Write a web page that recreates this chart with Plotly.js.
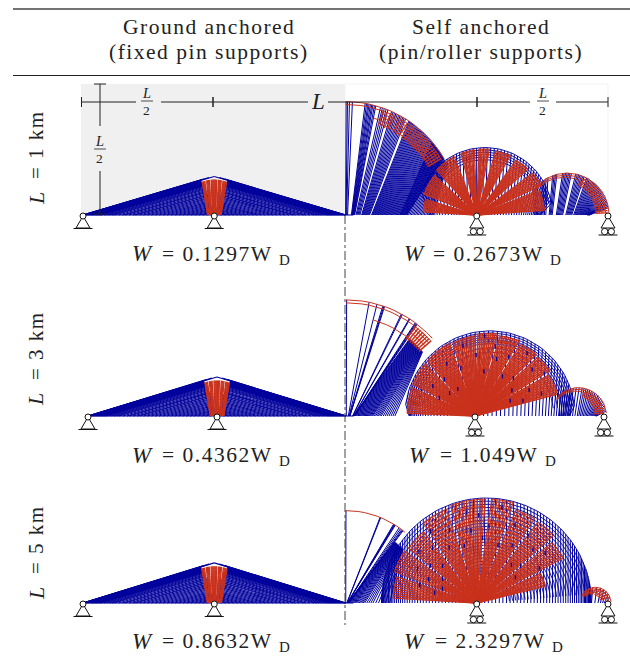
<!DOCTYPE html>
<html><head><meta charset="utf-8">
<script src="https://cdn.plot.ly/plotly-3.0.1.min.js"></script>
<style>html,body{margin:0;padding:0;background:#fff}
.annotation-text{letter-spacing:1.5px}</style></head>
<body><div id="chart" style="width:630px;height:660px"></div>
<script>
// ---------- text values ----------
const headers = [["Ground anchored","(fixed pin supports)"],["Self anchored","(pin/roller supports)"]];
const spanKm = [1,3,5];
const weightsGround = ["0.1297","0.4362","0.8632"];
const weightsSelf = ["0.2673","1.049","2.3297"];

// ---------- ground anchored panels (units of L, measured from tower) ----------
const gFeet  = [.5,.5,.5,.5,.495,.49,.485,.48,.475,.47,.465,.46,.455,.45,.445,.44,.435,.43,.42,.41,.40,.39,.38,.365,.35,.34,.325,.31,.30,.285,.27,.255,.24,.225,.21,.195,.18,.165,.15,.135,.12,.105,.09,.075,.06,.045,.03];
const gHeadX = [0,.02,.04,.05,.05,.05,.05,.05,.048,.048,.046,.046,.044,.044,.042,.042,.04,.04,.04,.038,.036,.034,.032,.03,.03,.028,.026,.024,.024,.022,.02,.02,.018,.016,.014,.014,.012,.012,.01,.01,.008,.008,.006,.006,.004,.004,.002];
const gHeadY = [.147,.143,.137,.133,.131,.13,.128,.127,.125,.124,.122,.121,.119,.118,.116,.115,.113,.112,.109,.106,.103,.1,.097,.093,.089,.086,.082,.078,.075,.071,.067,.063,.059,.055,.051,.047,.043,.039,.035,.031,.027,.023,.02,.016,.012,.009,.006];
const gHeight = [1,1.03,1.04];
const gRedFingers = [[110,108.5,107,105.5],[102.5,101,99.5,98],[95,93.5,92,90.5,89,87.5,86],[83,81.5,80,78.5],[75.5,74,72.5,71,69.5]];
const gRedRadius = [.135,.138,.14];
const gRedRings = [.95,.87,.79,.71,.63,.55,.47,.39,.31,.23,.15];

// ---------- self anchored, L = 1 km ----------
const a1_t1=[89.7,89,88,86.5];
const a1_t2=[80,79.3,78.6,78,77.3,76.6,76,75.2,74.5];
const a1_t3=[72,71,70,69,68,66,65.2,64.4,63.6,62.8,62,61.2,60.4,59.6,58.8,58];
const a1_k3=[.3,.31,.32,.33,.34,.35,.355,.36,.365,.37,.375,.38,.385,.39,.395,.4];
const a1_t4=[56,55.4,54.8,54.2,53.6,53,52.4,51.8,51.2,50.6,50,49.4,48.8,48.2,47.6,47,46.4,45.8,45.2,44.6,44,43.4,42.8,42.2,41.6,41,40.4,39.8,39.2,38.6,38,37.4,36.8,36.2,35.6,35,34.4,33.8,33.2,32.6,32,31.4,30.8,30.2];
const a1_k4=[.41,.415,.42,.425,.43,.435,.44,.445,.45,.455,.46,.465,.47,.475,.48,.485,.49,.495,.5,.505,.51,.515,.52,.525,.53,.535,.54,.545,.55,.555,.56,.565,.57,.575,.58,.585,.59,.595,.6,.605,.61,.615,.62,.625];
const a1_t5=[40,39.4,38.8,38.2,37.6,37,36.4,35.8,35.2,34.6,34,33.4,32.8,32.2,31.6,31,30.4,29.8,29.2,28.6,28,27.4,26.8,26.2];
const a1_k5=[.63,.64,.65,.66,.67,.68,.69,.7,.71,.72,.73,.74,.75,.76,.77,.78,.79,.8,.81,.82,.83,.84,.85,.86];
const a1_arc=[90,86,82,78,74,70,66,62,58,54,50,46,42,38,34,30];
const a1_arcIn=[74,70,66,62,58,54,50,46,42,38,34,30];
const a1_hatch=[70,68,66,64,60,58,56,54,52,50,48.5,47,45.5,44,42.5,41,39.5,38,36.5,35,33.5,32,30.5];
const b1_blue=[160,156,152,148,144,140,136,132,128,124,121,118,115,112,109,106,103,100,97,94,91,88,85,82,79,76,73,70,67,64,61,58,55,52,49,46,43,40,37,34,31,28,25,22,19,16,13,10];
const b1_w1=[177,175.5,174,172.5,171,169.5,168,166.5,165];
const b1_w2=[161,159.5,158,156.5,155,153.5,152,150.5,149,147.5,146,144.5,143,141.5];
const b1_w3=[137,135.5,134,132.5,131,129.5,128,126.5,125,123.5,122,120.5,119,117.5];
const b1_w4=[111,109.5,108,106.5,105,103.5,102,100.5,99];
const b1_w5=[95,93.5,92,90.5,89,87.5,86];
const b1_w6=[80,78.5,77,75.5,74,72.5,71,69.5,68,66.5];
const b1_w7=[60,58.5,57,55.5,54,52.5,51,49.5,48,46.5];
const b1_w8=[41,39.5,38,36.5,35,33.5,32,30.5,29,27.5];
const b1_w9=[24,22.5,21,19.5,18,16.5,15,13.5,12,10.5,9,7.5,6,4.5];
const c1_t=[144,140,136,126,123,120,117,110,108,106,104,96,94,92,90,88,86,84,78,76,74,72,70,68,66,62,60,58,56,54,52,50,48,46,44,42,40,38,36,34,32,30,28,26,24,22,20,18,16,14,12,10];
const c1_arc=[148,135,120,105,90,75,60,45,35,25,15,8,3];
const c1_hatch=[62,58,54,50,46,42,38,34,30,26,22,18,14,10,6,3];

// ---------- self anchored, L = 3 km ----------
const a2_t1=[89.7];
const a2_t2=[78.5,74.5,71.5,71,70.6];
const a2_t3=[61.5,61,57,56.6,53.4,53,52.6,52.2];
const a2_t4=[50.5,50.2,49.9,49.6,49.3,49,48.7,48.4,48.1,47.8,47.5,47.2,46.9,46.6,46.3,46,45.7,45.4,45.1,44.8,44.5,44.2,43.9,43.6,43.3,43,42.7,42.4,42.1,41.8,41.5,41.2,40.9,40.6,40.3,40];
const a2_k4=[.1,.11,.12,.13,.14,.15,.16,.17,.18,.19,.2,.21,.22,.23,.24,.25,.26,.27,.28,.29,.3,.31,.32,.335,.35,.365,.38,.395,.41,.43,.45,.47,.49,.51,.53,.55];
const a2_arc=[90,86,82,78,74,70,66,62,58,54,50,46,42];
const a2_arcIn=[74,70,66,62,58,54,50,46,42];
const a2_hatch=[52,50.5,49,47.5,46,44.5,43,41.5];
const b2_blue=[172,169,166,163,160,157,154,151,148,145,142,139,136,133,130,127,124,121,118,115,112,109,106,103,100,97,94,91,88,85,82,79,76,73,70,67,64,61,58,55,52,49,46,43,40,37,34,31,28,25,22,19,16,13,10,7];
const b2_w1=[178,176.5,175,173.5,172,170.5,169,167.5,166,164.5,163,161.5,160];
const b2_w2=[157.5,156,154.5,153,151.5,150,148.5,147,145.5,144,142.5,141];
const b2_w3=[138.5,137,135.5,134,132.5,131,129.5,128,126.5,125,123.5,122,120.5,119];
const b2_w4=[116.5,115,113.5,112,110.5,109,107.5,106,104.5,103,101.5,100];
const b2_w5=[98,96.5,95,93.5,92,90.5,89,87.5,86,84.5];
const b2_w6=[82,80.5,79,77.5,76,74.5,73,71.5,70,68.5];
const b2_w7=[66,64.5,63,61.5,60,58.5,57,55.5,54,52.5];
const b2_w8=[50,48.5,47,45.5,44,42.5,41,39.5,38,36.5];
const b2_w9=[34,32.5,31,29.5,28,26.5,25,23.5,22,20.5,19,17.5];
const c2_t=[130,124,118,112,106,100,94,88,82,78,74,70,66,62,58,54,50,46,42,38,34,30,26,22,18,14,10];
const c2_arc=[140,125,110,95,80,65,50,38,26,14,6];
const c2_red=[66,60,54,48,42,36,30,24,18,12,6];
const s2_angle=[160,152,147,139,133,128,117,110,99,93,88,83,78,68,62,57,50,44,38,35,28,24,20,18,15];
const s2_frac =[.55,.7,.45,.62,.4,.75,.6,.85,.7,.92,.5,.8,.66,.72,.5,.85,.55,.75,.45,.82,.6,.38,.7,.5,.85];

// ---------- self anchored, L = 5 km ----------
const a3_t1=[89.7];
const a3_t2=[68,67.6,58.6,58.2,57.8,57.4];
const a3_t3=[54.5,53.5,52.6,52,51.5];
const a3_t4=[51,50.7,50.4,50.1,49.8,49.5,49.2,48.9,48.6,48.3,48,47.7,47.4,47.1,46.8,46.5,46.2,45.9,45.6,45.3,45,44.7,44.4,44.1,43.8,43.5];
const a3_k4=[.03,.045,.06,.075,.09,.105,.12,.135,.15,.165,.18,.2,.22,.24,.26,.28,.3,.33,.36,.39,.42,.46,.5,.55,.6,.66];
const a3_arc=[90,86,82,78,74,70,66,62,58,54,50];
const b3_blue=[177,175,173,171,169,167,165,163,161,159,157,155,153,151,149,147,145,143,141,139,137,135,133,131,129,127,125,123,121,119,117,115,113,111,109,107,105,103,101,99,97,95,93,91,89,87,85,83,81,79,77,75,73,71,69,67,65,63,61,59,57,55,53,51,49,47,45,43,41,39,37,35,33,31,29,27,25,23,21,19,17,15,13,11,9,7,5];
const b3_rings=[1,.97,.94,.91,.88,.85,.82,.79,.76,.73,.7,.67,.64,.61,.58,.55,.52,.49,.46,.43,.4,.37,.34,.31,.28,.25,.22];
const b3_w1=[177,175.5,174,172.5,171,169.5,168,166.5,165,163.5];
const b3_w2=[161,159.5,158,156.5,155,153.5,152,150.5,149,147.5];
const b3_w3=[144.5,143,141.5,140,138.5,137,135.5,134,132.5,131];
const b3_w4=[128,126.5,125,123.5,122,120.5,119,117.5,116,114.5,113];
const b3_w5=[110,108.5,107,105.5,104,102.5,101,99.5,98,96.5,95,93.5,92,90.5];
const b3_w6=[87,85.5,84,82.5,81,79.5,78,76.5,75];
const b3_w7=[72,70.5,69,67.5,66,64.5,63,61.5,60];
const b3_w8=[57,55.5,54,52.5,51,49.5,48,46.5,45];
const b3_w9=[42,40.5,39,37.5,36,34.5,33,31.5,30];
const b3_w10=[27,25.5,24,22.5,21,19.5,18,16.5,15];
const c3_t=[130,115,100,85,70,58,46,34,22];
const c3_arc=[150,130,110,90,70,50,30,15,5];
const s3_angle=[170,166,162,158,154,150,146,143,138,134,128,122,116,108,100,94,90,86,80,74,68,62,56,50,46,42,38,34,30];
const s3_frac =[.45,.62,.38,.55,.7,.42,.6,.78,.5,.7,.84,.6,.75,.55,.68,.82,.6,.72,.9,.55,.78,.6,.75,.45,.68,.5,.74,.4,.62];

// ---------- layout of the three rows (pixel frame of each row) ----------
const rows=[{c:345.5,L:262.5,deck:215,top:78,bot:248},{c:346,L:258,deck:416,top:285,bot:446},{c:345.5,L:262.5,deck:603,top:490,bot:630}];
const BLUE='#00009c', RED='#c9321d';
const redWidths=[1.3,1.55,1.3];

const seg=()=>({x:[],y:[]});
const store=rows.map(()=>({gb:seg(),gs:seg(),gr:seg(),bs:seg(),br:seg(),rs:seg(),rr:seg(),sp:seg()}));
const rad=d=>d*Math.PI/180;

// One fan of a span: spokes read as angles on the span's circle.
function fan(s,ring,o){
  const {cx,R,fb,angles}=o; const k=o.k===undefined?0:o.k, g=o.g||0, f=o.f===undefined?1:o.f, rc=o.rc===undefined?fb:o.rc;
  const P=angles.map(a=>[cx+R*Math.cos(rad(a)),R*Math.sin(rad(a))]);
  if(!o.noSpokes) P.forEach((p,i)=>{
    const ki=Array.isArray(k)?k[i]:k;
    s.x.push(fb+ki*(p[0]-fb),fb+f*(p[0]-fb),null);
    s.y.push(g*p[1],f*p[1],null);
  });
  (o.rings||[]).forEach(q=>{
    P.forEach(p=>{ring.x.push(rc+q*(p[0]-rc)); ring.y.push(q*p[1]);});
    ring.x.push(null); ring.y.push(null);
  });
}
// Dark blue flecks that show through the red fans.
function flecks(sp,B,angles,fracs){
  angles.forEach((a,i)=>{
    const x=B.fb+fracs[i]*(B.cx+B.R*Math.cos(rad(a))-B.fb), y=fracs[i]*B.R*Math.sin(rad(a));
    sp.x.push(x,x,null); sp.y.push(y,y+.016,null);
  });
}

// ground anchored
rows.forEach((r,i)=>{
  const S=store[i];
  gFeet.forEach((d,j)=>{
    [-1,1].forEach(sd=>{
      S.gb.x.push(-.5+sd*d,-.5+sd*gHeadX[j],null);
      S.gb.y.push(0,gHeadY[j]*gHeight[i],null);
    });
  });
  S.gb.x.push(-1,.03,null); S.gb.y.push(0,0,null);
  gRedFingers.forEach(a=>fan(S.gs,S.gr,{cx:-.5,R:gRedRadius[i],fb:-.5,angles:a,k:.55,rings:gRedRings}));
});

// L = 1 km
{const S=store[0];
 const A={cx:0,R:.432,fb:0};
 fan(S.bs,S.br,{...A,angles:a1_t1,k:.3});
 fan(S.bs,S.br,{...A,angles:a1_t2,k:.3});
 fan(S.bs,S.br,{...A,angles:a1_t3,k:a1_k3});
 fan(S.bs,S.br,{...A,angles:a1_t4,k:a1_k4});
 fan(S.bs,S.br,{...A,angles:a1_t5,k:a1_k5});
 const B={cx:.531,R:.257,fb:.5};
 fan(S.bs,S.br,{...B,angles:b1_blue,k:.85,rc:.531,rings:[1,.965,.93,.895,.86,.82]});
 fan(S.bs,S.br,{cx:.844,R:.16,fb:.741,angles:c1_t,k:.72});
 fan(S.rs,S.rr,{...A,angles:a1_arc,noSpokes:true,rings:[1,.975]});
 fan(S.rs,S.rr,{...A,angles:a1_arcIn,noSpokes:true,rings:[.89]});
 fan(S.rs,S.rr,{...A,angles:a1_hatch,k:.84,g:.84,f:.98,rings:[.95,.92,.86]});
 [[b1_w1,.9],[b1_w2,.95],[b1_w3,.98],[b1_w4,.98],[b1_w5,.98],[b1_w6,.96],[b1_w7,.94],[b1_w8,.95],[b1_w9,.9]].forEach(w=>
   fan(S.rs,S.rr,{...B,angles:w[0],f:w[1],rings:[w[1],w[1]-.08,w[1]-.16,w[1]-.24,w[1]-.32,.3,.2]}));
 const C={cx:.844,R:.16,fb:.741};
 fan(S.rs,S.rr,{...C,angles:c1_arc,noSpokes:true,rings:[1,.95,.9]});
 fan(S.rs,S.rr,{...C,angles:c1_hatch,k:.8,g:.8,f:.98,rings:[.86]});
}
// L = 3 km
{const S=store[1];
 const A={cx:0,R:.45,fb:0};
 fan(S.bs,S.br,{...A,angles:a2_t1,k:.5});
 fan(S.bs,S.br,{...A,angles:a2_t2,k:.1});
 fan(S.bs,S.br,{...A,angles:a2_t3,k:.12});
 fan(S.bs,S.br,{...A,angles:a2_t4,k:a2_k4,f:.86});
 const B={cx:.558,R:.33,fb:.5};
 fan(S.bs,S.br,{...B,angles:b2_blue,k:.95,rc:.558,rings:[1,.975,.95,.925,.9,.875,.85,.8,.75]});
 fan(S.bs,S.br,{cx:.9,R:.11,fb:.82,angles:c2_t,k:.8});
 fan(S.rs,S.rr,{...A,angles:a2_arc,noSpokes:true,rings:[1,.975]});
 fan(S.rs,S.rr,{...A,angles:a2_arcIn,noSpokes:true,rings:[.86]});
 fan(S.rs,S.rr,{...A,angles:a2_hatch,k:.84,g:.84,f:.98,rings:[.95,.91]});
 [b2_w1,b2_w2,b2_w3,b2_w4,b2_w5,b2_w6,b2_w7,b2_w8,b2_w9].forEach((w,i)=>{
   const f=[.97,.98,.98,.96,.97,.95,.92,.9,.86][i];
   fan(S.rs,S.rr,{...B,angles:w,f:f,rings:[f,f-.06,f-.12,f-.18,f-.24,f-.3,f-.36,f-.42,.25]});
 });
 flecks(S.sp,B,s2_angle,s2_frac);
 const C={cx:.9,R:.11,fb:.82};
 fan(S.rs,S.rr,{...C,angles:c2_arc,noSpokes:true,rings:[1,.94,.88]});
 fan(S.rs,S.rr,{...C,angles:c2_red,k:.75,g:.75,f:.95});
}
// L = 5 km
{const S=store[2];
 const A={cx:0,R:.352,fb:0};
 fan(S.bs,S.br,{...A,angles:a3_t1,k:.5});
 fan(S.bs,S.br,{...A,angles:a3_t2,k:.04});
 fan(S.bs,S.br,{...A,angles:a3_t3,k:.06});
 fan(S.bs,S.br,{...A,angles:a3_t4,k:a3_k4,f:.85});
 const B={cx:.537,R:.40,fb:.5};
 fan(S.bs,S.br,{...B,angles:b3_blue,k:1,rc:.537,rings:b3_rings});
 fan(S.bs,S.br,{cx:.952,R:.06,fb:.92,angles:c3_t,k:.8});
 fan(S.rs,S.rr,{...A,angles:a3_arc,noSpokes:true,rings:[1]});
 [b3_w1,b3_w2,b3_w3,b3_w4,b3_w5,b3_w6,b3_w7,b3_w8,b3_w9,b3_w10].forEach((w,i)=>{
   const f=[.88,.92,.9,.97,.99,.99,.93,.92,.86,.62][i];
   fan(S.rs,S.rr,{...B,angles:w,f:f,rings:[f,f-.07,f-.14,f-.21,f-.28,f-.35,f-.42,.3,.2]});
 });
 flecks(S.sp,B,s3_angle,s3_frac);
 const C={cx:.952,R:.06,fb:.92};
 fan(S.rs,S.rr,{...C,angles:c3_arc,noSpokes:true,rings:[1,.9,.8,.7]});
 fan(S.rs,S.rr,{...C,angles:c3_t,k:.55,g:.55,f:1});
}

// ---------- traces ----------
const traces=[];
store.forEach((S,i)=>{
  const ax=i===0?'':String(i+1);
  const add=(d,c,w)=>traces.push({type:'scatter',mode:'lines',x:d.x,y:d.y,xaxis:'x'+ax,yaxis:'y'+ax,
     line:{color:c,width:w},hoverinfo:'skip',showlegend:false,connectgaps:false,cliponaxis:false});
  add(S.gb,BLUE,1.1); add(S.gs,RED,1.3); add(S.gr,RED,.8);
  add(S.bs,BLUE,1); add(S.br,BLUE,.9); add(S.rs,RED,redWidths[i]); add(S.rr,RED,1); add(S.sp,BLUE,1.3);
});

// ---------- layout ----------
const layout={width:630,height:660,margin:{l:0,r:0,t:0,b:0},paper_bgcolor:'#fff',plot_bgcolor:'rgba(0,0,0,0)',showlegend:false,shapes:[],annotations:[]};
rows.forEach((r,i)=>{
  const ax=i===0?'':String(i+1);
  layout['xaxis'+ax]={domain:[0,1],range:[(0-r.c)/r.L,(630-r.c)/r.L],visible:false,fixedrange:true,anchor:'y'+ax};
  layout['yaxis'+ax]={domain:[1-r.bot/660,1-r.top/660],range:[(r.deck-r.bot)/r.L,(r.deck-r.top)/r.L],visible:false,fixedrange:true,anchor:'x'+ax};
});
const ink='#222';
const X=i=>'x'+(i===0?'':i+1), Y=i=>'y'+(i===0?'':i+1);
const paperLine=(x0,y0,x1,y1,color,width,dash)=>layout.shapes.push({type:'line',xref:'paper',yref:'paper',x0:x0/630,x1:x1/630,y0:1-y0/660,y1:1-y1/660,line:{color,width,dash:dash||'solid'},layer:'above'});
const text=(x,y,t,size,opt)=>{
  const o=Object.assign({},opt||{}); const style=o.italic?'italic':'normal'; delete o.italic;
  layout.annotations.push(Object.assign({xref:'paper',yref:'paper',x:x/630,y:1-y/660,text:t,showarrow:false,xanchor:'center',yanchor:'middle',
   font:{family:'"Liberation Serif",serif',size:size,color:'#222',style:style}},o));
};

// backgrounds
layout.shapes.push({type:'rect',layer:'below',xref:'paper',yref:'paper',x0:81/630,x1:345/630,y0:1-215/660,y1:1-84/660,fillcolor:'#f0f0f0',line:{width:0}});
layout.shapes.push({type:'rect',layer:'below',xref:'paper',yref:'paper',x0:345/630,x1:608/630,y0:1-215/660,y1:1-84/660,fillcolor:'#fff',line:{width:1,color:'#f3f3f3'}});
// rules
paperLine(13,9,630,9,'#444',1.3);
paperLine(13,75.5,630,75.5,'#222',1);
paperLine(345,215,345,625,'#444',1,'dashdot');
// dimension lines
[[81,136],[161,308],[328,345],[345,530],[556,608]].forEach(s=>paperLine(s[0],102,s[1],102,ink,1));
[81.5,213,477,608].forEach(x=>paperLine(x,97,x,107,ink,x===81.5||x===608?1:1.5));
[[84,126],[171,214]].forEach(s=>paperLine(100,s[0],100,s[1],ink,1));
paperLine(94,84,106,84,ink,1); paperLine(94,214,106,214,ink,1);
// fractions
const frac=(x,y)=>{ text(x,y-8,'L',14.5,{italic:true}); paperLine(x-6,y,x+6,y,ink,.8); text(x,y+9.5,'2',13.5); };
frac(147,101); frac(100,149); frac(543,101);
text(318,101,'L',23,{italic:true});

// supports
const pathLine=(xref,yref,xa,d)=>({type:'path',xref,yref,xsizemode:'pixel',ysizemode:'pixel',xanchor:xa,yanchor:0,path:d,line:{color:'#111',width:1},fillcolor:'rgba(0,0,0,0)',layer:'above'});
const circ=(xref,yref,xa,cx,cy,r)=>({type:'circle',xref,yref,xsizemode:'pixel',ysizemode:'pixel',xanchor:xa,yanchor:0,x0:cx-r,x1:cx+r,y0:cy-r,y1:cy+r,fillcolor:'#fff',line:{color:'#111',width:1},layer:'above'});
rows.forEach((r,i)=>{
  [-1,-.5].forEach(xa=>{
    layout.shapes.push(pathLine(X(i),Y(i),xa,'M0,-1 L-7,-13 L7,-13 Z'));
    layout.shapes.push(pathLine(X(i),Y(i),xa,'M-9.5,-13.5 L9.5,-13.5'));
    layout.shapes.push(circ(X(i),Y(i),xa,0,-1,3));
  });
  [.5,1].forEach(xa=>{
    layout.shapes.push(pathLine(X(i),Y(i),xa,'M0,-1 L-7,-13 L7,-13 Z'));
    layout.shapes.push(pathLine(X(i),Y(i),xa,'M-9.5,-20 L9.5,-20'));
    layout.shapes.push(circ(X(i),Y(i),xa,-3.3,-16.6,3.2));
    layout.shapes.push(circ(X(i),Y(i),xa,3.3,-16.6,3.2));
    layout.shapes.push(circ(X(i),Y(i),xa,0,-1,3));
  });
});

// header text
const colX=[209,481];
headers.forEach((h,c)=>{ text(colX[c],27,h[0],21.5); text(colX[c],52,h[1],21.5); });
// row text
const labelLY=[198,399,593], labelRestY=[145,346,540];
const weightY=[254,455,641];
const weightStartL=[130,130,130], weightEndL=[274,274,274];
const weightStartR=[402,407,402], weightEndR=[545,540,547];
const weightPiece=(start,end,y,val)=>{
  text(start,y,'W',23,{italic:true,xanchor:'left'});
  text(end,y,'=\u00A0'+val+'W',21.5,{xanchor:'right'});
  text(end+3,y+6,'D',15,{xanchor:'left'});
};
spanKm.forEach((km,i)=>{
  text(36,labelLY[i],'L',22,{italic:true,textangle:-90});
  text(36,labelRestY[i],'=\u00A0'+km+' km',21,{textangle:-90});
  weightPiece(weightStartL[i],weightEndL[i],weightY[i],weightsGround[i]);
  weightPiece(weightStartR[i],weightEndR[i],weightY[i],weightsSelf[i]);
});

Plotly.newPlot('chart',traces,layout,{displayModeBar:false,staticPlot:true});
</script></body></html>
